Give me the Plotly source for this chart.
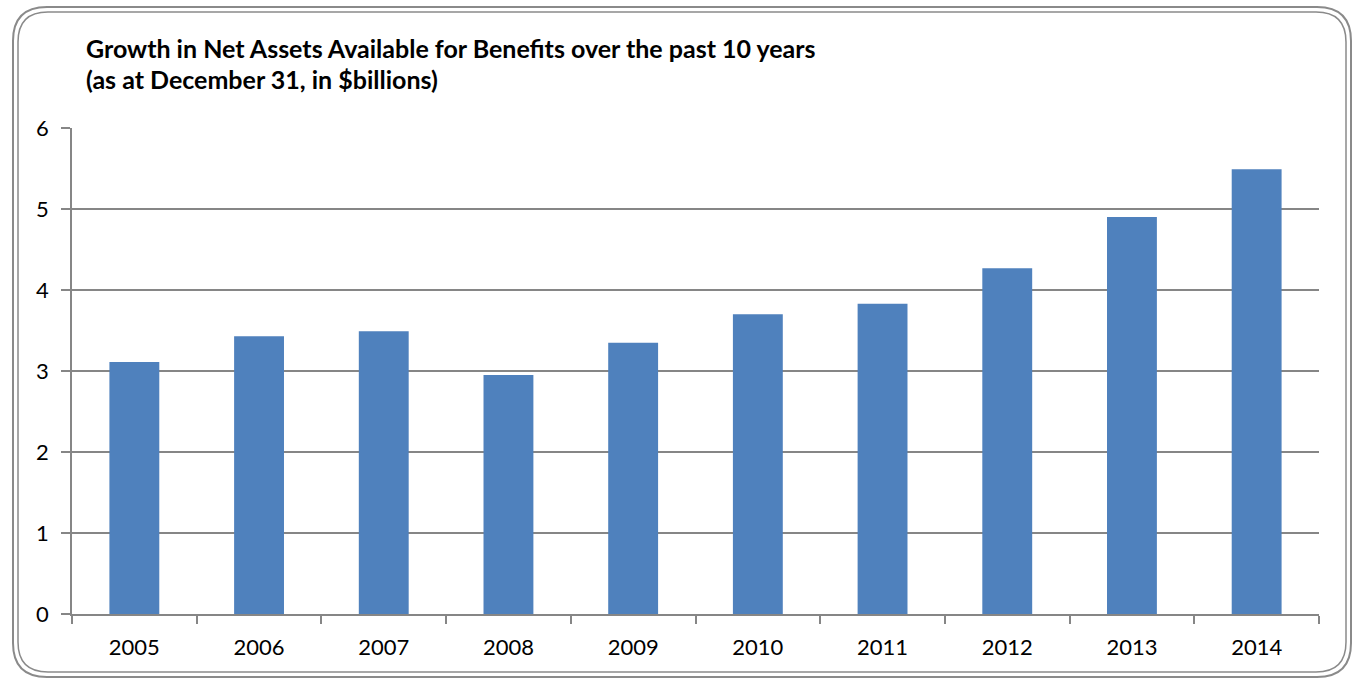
import plotly.graph_objects as go

years = ["2005", "2006", "2007", "2008", "2009", "2010", "2011", "2012", "2013", "2014"]
net_assets = [3.11, 3.43, 3.49, 2.95, 3.35, 3.70, 3.83, 4.27, 4.90, 5.49]
title_lines = ["Growth in Net Assets Available for Benefits over the past 10 years",
               "(as at December 31, in $billions)"]

W, H = 1353, 679
L, R, T, B = 72, 1319, 128, 614
PW, PH = R - L, B - T

def px(x):
    return (x - L) / PW

def py(y):
    return (B - y) / PH

def rounded(x0, y0, x1, y1, r):
    return (f"M {px(x0 + r)} {py(y0)} L {px(x1 - r)} {py(y0)} "
            f"Q {px(x1)} {py(y0)} {px(x1)} {py(y0 + r)} "
            f"L {px(x1)} {py(y1 - r)} Q {px(x1)} {py(y1)} {px(x1 - r)} {py(y1)} "
            f"L {px(x0 + r)} {py(y1)} Q {px(x0)} {py(y1)} {px(x0)} {py(y1 - r)} "
            f"L {px(x0)} {py(y0 + r)} Q {px(x0)} {py(y0)} {px(x0 + r)} {py(y0)} Z")

fig = go.Figure(go.Bar(x=years, y=net_assets, marker_color="#4F81BD", marker_line_width=0))

fig.update_layout(
    width=W, height=H,
    margin=dict(l=L, r=W - R, t=T, b=H - B),
    paper_bgcolor="white", plot_bgcolor="white",
    bargap=0.6, showlegend=False,
    font=dict(family="Lato, Open Sans, sans-serif", size=22, color="black"),
    xaxis=dict(showgrid=False, ticks="outside", tickson="boundaries", ticklen=8,
               tickcolor="#868686", tickwidth=1.5, showline=True, linecolor="#868686",
               linewidth=1.5, tickfont=dict(size=22), ticklabelstandoff=13),
    yaxis=dict(range=[0, 6], dtick=1, showgrid=True, gridcolor="#868686", gridwidth=1.5,
               ticks="outside", ticklen=9, tickcolor="#868686", tickwidth=1.5,
               showline=True, linecolor="#868686", linewidth=1.5, zeroline=False,
               tickfont=dict(size=22), ticklabelstandoff=8),
    shapes=[
        dict(type="path", xref="paper", yref="paper", path=rounded(13, 7, 1351, 677, 34),
             line=dict(color="#8a8a8a", width=2), layer="above"),
        dict(type="path", xref="paper", yref="paper", path=rounded(18, 12, 1346, 672, 30),
             line=dict(color="#8a8a8a", width=1.5), layer="above"),
    ],
    annotations=[
        dict(xref="paper", yref="paper", x=px(84), y=py(48), xanchor="left", yanchor="middle",
             text="<b>" + title_lines[0] + "</b>", showarrow=False, font=dict(size=25)),
        dict(xref="paper", yref="paper", x=px(84), y=py(79), xanchor="left", yanchor="middle",
             text="<b>" + title_lines[1] + "</b>", showarrow=False, font=dict(size=25)),
    ],
)

fig.write_html("out.html")
